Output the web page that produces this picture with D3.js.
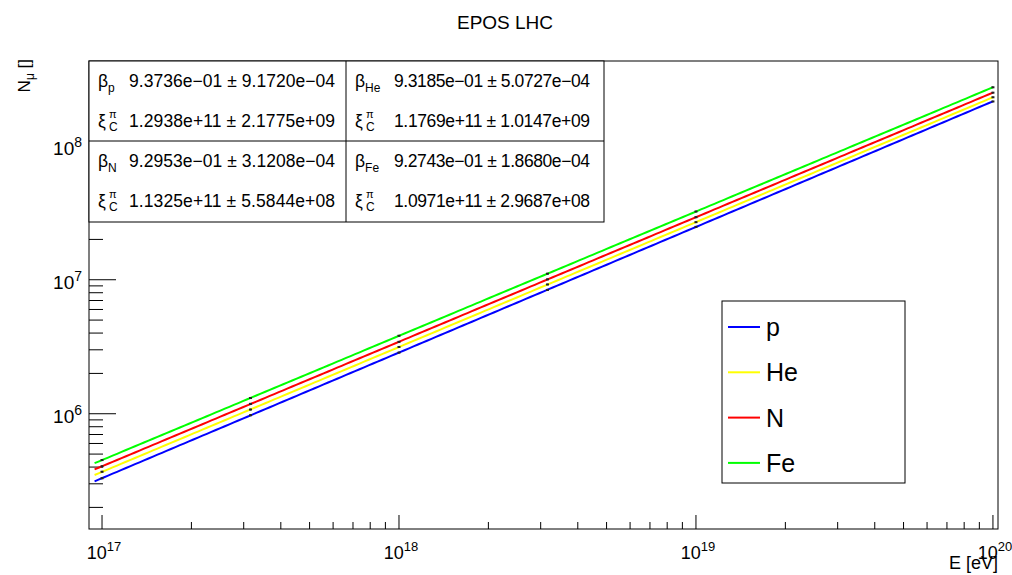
<!DOCTYPE html>
<html><head><meta charset="utf-8">
<script src="https://cdn.jsdelivr.net/npm/d3@7"></script>
<style>
body{margin:0;background:#fff}
text{font-family:"Liberation Sans",Arial,Helvetica,sans-serif;fill:#000}
</style>
</head><body>
<svg id="chart" width="1012" height="575"></svg>
<script>
// Simulated muon numbers vs primary energy, EPOS LHC
const energies = [1e17, 3.1623e17, 1e18, 3.1623e18, 1e19, 1e20];
const species = ["p", "He", "N", "Fe"];
const massNumbers = [1, 4, 14, 56];
const colors = ["#0000ff", "#ffff00", "#ff0000", "#00ff00"];

const muonsP  = [3.30e5, 9.75e5, 2.86e6, 8.40e6, 2.48e7, 2.14e8];
const muonsHe = [3.69e5, 1.075e6, 3.15e6, 9.22e6, 2.69e7, 2.30e8];
const muonsN  = [4.05e5, 1.185e6, 3.44e6, 1.006e7, 2.93e7, 2.49e8];
const muonsFe = [4.51e5, 1.31e6, 3.82e6, 1.11e7, 3.23e7, 2.73e8];
const relErr  = [0.015, 0.013, 0.012, 0.011, 0.01, 0.01];

// Heitler–Matthews fit parameters: N = A^(1-beta) * (E/xi)^beta
const beta = [0.93736, 0.93185, 0.92953, 0.92743];
const xi   = [1.2938e11, 1.1769e11, 1.1325e11, 1.0971e11];
const betaText = ["9.3736e\u221201 \u00b1 9.1720e\u221204", "9.3185e\u221201 \u00b1 5.0727e\u221204",
                  "9.2953e\u221201 \u00b1 3.1208e\u221204", "9.2743e\u221201 \u00b1 1.8680e\u221204"];
const xiText   = ["1.2938e+11 \u00b1 2.1775e+09", "1.1769e+11 \u00b1 1.0147e+09",
                  "1.1325e+11 \u00b1 5.5844e+08", "1.0971e+11 \u00b1 2.9687e+08"];

const xTickExp = [17, 18, 19, 20];
const yTickExp = [6, 7, 8];

const muons = [muonsP, muonsHe, muonsN, muonsFe];

const svg = d3.select("#chart");
const frame = {left: 89, right: 998, top: 61, bottom: 529};

const x = d3.scaleLog().domain([9.04e16, 1.04e20]).range([frame.left, frame.right]);
const y = d3.scaleLog().domain([1.38e5, 4.29e8]).range([frame.bottom, frame.top]);

// minor/major ticks (drawn inward)
function logTicks(domain) {
  const out = [];
  const lo = Math.floor(Math.log10(domain[0])), hi = Math.ceil(Math.log10(domain[1]));
  for (let e = lo; e <= hi; e++) for (let m = 1; m <= 9; m++) {
    const v = m * Math.pow(10, e);
    if (v >= domain[0] && v <= domain[1]) out.push({v, major: m === 1});
  }
  return out;
}
const g = svg.append("g");
g.selectAll("line.xt").data(logTicks(x.domain())).join("line")
  .attr("x1", d => x(d.v)).attr("x2", d => x(d.v))
  .attr("y1", frame.bottom).attr("y2", d => frame.bottom - (d.major ? 14 : 7))
  .attr("stroke", "#000").attr("stroke-width", 1);
g.selectAll("line.yt").data(logTicks(y.domain())).join("line")
  .attr("y1", d => y(d.v)).attr("y2", d => y(d.v))
  .attr("x1", frame.left).attr("x2", d => frame.left + (d.major ? 27 : 14))
  .attr("stroke", "#000").attr("stroke-width", 1);

// fit curves
const fitE = d3.range(0, 201).map(i => Math.pow(10, 16.975 + i * (20 - 16.975) / 200));
species.forEach((s, i) => {
  const f = E => Math.pow(massNumbers[i], 1 - beta[i]) * Math.pow(E / xi[i], beta[i]);
  svg.append("path")
    .datum(fitE)
    .attr("fill", "none").attr("stroke", colors[i]).attr("stroke-width", 2)
    .attr("d", d3.line().x(E => x(E)).y(E => y(f(E))));
});

// data points with error bars
species.forEach((s, i) => {
  const pts = energies.map((E, k) => ({E, n: muons[i][k], err: muons[i][k] * relErr[k]}));
  const gp = svg.append("g");
  gp.selectAll("line").data(pts).join("line")
    .attr("x1", d => x(d.E)).attr("x2", d => x(d.E))
    .attr("y1", d => y(d.n - d.err)).attr("y2", d => y(d.n + d.err))
    .attr("stroke", "#000").attr("stroke-width", 1);
  gp.selectAll("rect").data(pts).join("rect")
    .attr("x", d => x(d.E) - 1.5).attr("y", d => y(d.n) - 1)
    .attr("width", 3).attr("height", 2).attr("fill", "#222");
});

// frame
svg.append("rect").attr("x", frame.left).attr("y", frame.top)
  .attr("width", frame.right - frame.left).attr("height", frame.bottom - frame.top)
  .attr("fill", "none").attr("stroke", "#000").attr("stroke-width", 1);

// axis labels
const xl = svg.append("g").selectAll("text").data(xTickExp).join("text")
  .attr("x", d => x(Math.pow(10, d)) + 2).attr("y", 559)
  .attr("text-anchor", "middle").attr("font-size", 18);
xl.append("tspan").text("10");
xl.append("tspan").attr("dy", -8).attr("font-size", 13).text(d => d);

const yl = svg.append("g").selectAll("text").data(yTickExp).join("text")
  .attr("x", 82).attr("y", d => y(Math.pow(10, d)) + 9)
  .attr("text-anchor", "end").attr("font-size", 19);
yl.append("tspan").text("10");
yl.append("tspan").attr("dy", -8).attr("font-size", 14).text(d => d);

svg.append("text").attr("x", 998).attr("y", 569).attr("text-anchor", "end")
  .attr("font-size", 18).text("E [eV]");

const yt = svg.append("text").attr("transform", "translate(30,59) rotate(-90)")
  .attr("text-anchor", "end").attr("font-size", 17);
yt.append("tspan").text("N");
yt.append("tspan").attr("dy", 4).attr("font-size", 12).text("\u03bc");
yt.append("tspan").attr("dy", -4).text(" []");

// title
svg.append("text").attr("x", 505).attr("y", 29).attr("text-anchor", "middle")
  .attr("font-size", 19).text("EPOS LHC");

// fit-parameter box
const box = {left: 89, right: 604, top: 61, mid: 141, bottom: 222, split: 346};
const bg = svg.append("g");
bg.append("rect").attr("x", box.left).attr("y", box.top)
  .attr("width", box.right - box.left).attr("height", box.bottom - box.top)
  .attr("fill", "#fff").attr("stroke", "#000");
bg.append("line").attr("x1", box.left).attr("x2", box.right).attr("y1", box.mid).attr("y2", box.mid).attr("stroke", "#000");
bg.append("line").attr("x1", box.split).attr("x2", box.split).attr("y1", box.top).attr("y2", box.bottom).attr("stroke", "#000");

species.forEach((s, i) => {
  const col = i % 2, row = Math.floor(i / 2);
  const x0 = col === 0 ? 98 : 355;
  const xv = col === 0 ? 129 : 394;
  const yb = 87 + row * 80;
  const fs = 17.5;
  const t = bg.append("text").attr("x", x0).attr("y", yb).attr("font-size", fs);
  t.append("tspan").text("\u03b2");
  t.append("tspan").attr("dy", 5).attr("font-size", 12).text(s);
  bg.append("text").attr("x", xv).attr("y", yb).attr("font-size", fs)
    .attr("textLength", col === 0 ? 206 : 196).text(betaText[i]);
  const y2 = yb + 40;
  bg.append("text").attr("x", x0).attr("y", y2).attr("font-size", fs).text("\u03be");
  bg.append("text").attr("x", x0 + 11).attr("y", y2 - 9).attr("font-size", 11).text("\u03c0");
  bg.append("text").attr("x", x0 + 11).attr("y", y2 + 4).attr("font-size", 12).text("C");
  bg.append("text").attr("x", xv).attr("y", y2).attr("font-size", fs)
    .attr("textLength", col === 0 ? 206 : 196).text(xiText[i]);
});

// legend
const lg = svg.append("g");
lg.append("rect").attr("x", 722).attr("y", 301).attr("width", 183).attr("height", 182)
  .attr("fill", "#fff").attr("stroke", "#000");
species.forEach((s, i) => {
  const yc = 327 + i * 45.3;
  lg.append("line").attr("x1", 728).attr("x2", 760).attr("y1", yc).attr("y2", yc)
    .attr("stroke", colors[i]).attr("stroke-width", 2);
  lg.append("text").attr("x", 766).attr("y", yc + 9).attr("font-size", 25).text(s);
});
</script>
</body></html>
